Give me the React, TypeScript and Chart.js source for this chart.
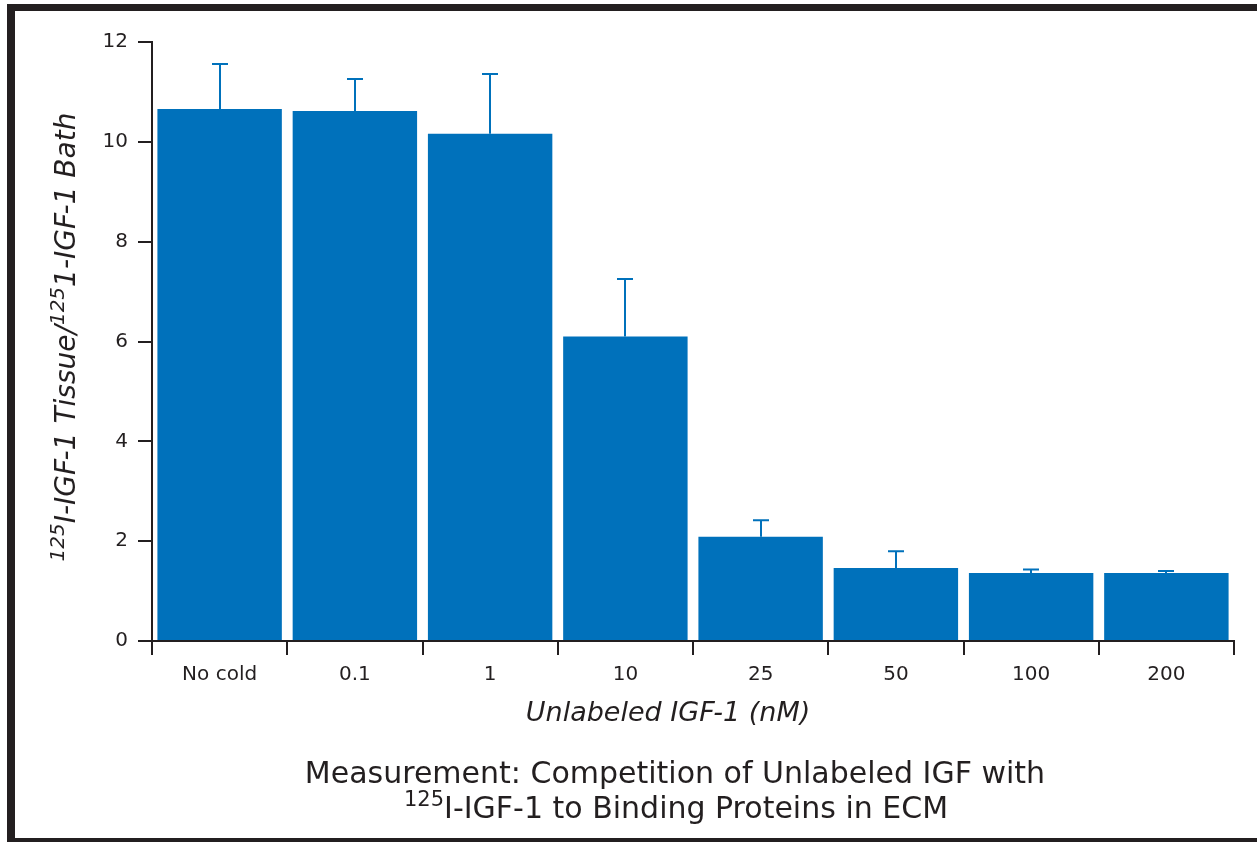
import React, { useEffect, useRef } from "react";
import { Chart, registerables } from "chart.js";

Chart.register(...registerables);

const categories = ["No cold", "0.1", "1", "10", "25", "50", "100", "200"];
const ratioValues = [10.66, 10.62, 10.16, 6.1, 2.09, 1.46, 1.36, 1.36];
const ratioErrors = [0.9, 0.64, 1.2, 1.15, 0.33, 0.34, 0.07, 0.04];
const yTickMin = 0;
const yTickMax = 12;
const yTickStep = 2;

const xTitle = "Unlabeled IGF-1 (nM)";
const yTitleParts: [string, boolean][] = [
  ["125", true],
  ["I-IGF-1 Tissue/", false],
  ["125", true],
  ["1-IGF-1 Bath", false],
];
const captionLine1 = "Measurement: Competition of Unlabeled IGF with";
const captionLine2Parts: [string, boolean][] = [
  ["125", true],
  ["I-IGF-1 to Binding Proteins in ECM", false],
];

const INK = "#231f20";
const BLUE = "#0071bb";
const FONT = "'DejaVu Sans', Verdana, sans-serif";

function drawRich(
  ctx: CanvasRenderingContext2D,
  parts: [string, boolean][],
  cx: number,
  baseline: number,
  size: number,
  supSize: number,
  supRaise: number,
  style: string
) {
  const mainFont = `${style} ${size}px ${FONT}`;
  const supFont = `${style} ${supSize}px ${FONT}`;
  let total = 0;
  for (const [t, sup] of parts) {
    ctx.font = sup ? supFont : mainFont;
    total += ctx.measureText(t).width;
  }
  let x = cx - total / 2;
  ctx.textAlign = "left";
  ctx.textBaseline = "alphabetic";
  for (const [t, sup] of parts) {
    ctx.font = sup ? supFont : mainFont;
    ctx.fillText(t, x, sup ? baseline - supRaise : baseline);
    x += ctx.measureText(t).width;
  }
}

const decorPlugin = {
  id: "decor",
  beforeDraw(chart: any) {
    const ctx = chart.ctx as CanvasRenderingContext2D;
    ctx.save();
    ctx.fillStyle = "#ffffff";
    ctx.fillRect(0, 0, chart.width, chart.height);
    ctx.fillStyle = INK;
    ctx.fillRect(7, 4, chart.width - 7, 7);
    ctx.fillRect(7, 4, 8, chart.height - 4);
    ctx.fillRect(7, 838, chart.width - 7, 4);
    ctx.restore();
  },
  afterDatasetsDraw(chart: any) {
    const ctx = chart.ctx as CanvasRenderingContext2D;
    const meta = chart.getDatasetMeta(0);
    const yScale = chart.scales.y;
    ctx.save();
    ctx.strokeStyle = BLUE;
    ctx.lineWidth = 2;
    meta.data.forEach((bar: any, i: number) => {
      const v = ratioValues[i];
      const e = ratioErrors[i];
      const x = Math.round(bar.x) + 0;
      const yTop = yScale.getPixelForValue(v + e);
      const yBase = yScale.getPixelForValue(v);
      ctx.beginPath();
      ctx.moveTo(x, yBase);
      ctx.lineTo(x, yTop);
      ctx.moveTo(x - 8, yTop);
      ctx.lineTo(x + 8, yTop);
      ctx.stroke();
    });
    ctx.restore();

    // texts
    ctx.save();
    ctx.fillStyle = INK;
    // x title
    ctx.font = `italic 27px ${FONT}`;
    ctx.textAlign = "center";
    ctx.textBaseline = "alphabetic";
    ctx.fillText(xTitle, 668, 721);
    // y title rotated
    ctx.save();
    ctx.translate(75, 337);
    ctx.rotate(-Math.PI / 2);
    drawRich(ctx, yTitleParts, 0, 0, 28, 20, 11, "italic");
    ctx.restore();
    // caption
    ctx.font = `30px ${FONT}`;
    ctx.textAlign = "center";
    ctx.fillText(captionLine1, 675, 783);
    drawRich(ctx, captionLine2Parts, 676, 818, 30, 21, 12, "normal");
    ctx.restore();
  },
};

export default function App() {
  const ref = useRef<HTMLCanvasElement | null>(null);
  useEffect(() => {
    document.body.style.margin = "0";
    const canvas = ref.current;
    if (!canvas) return;
    const chart = new Chart(canvas, {
      type: "bar",
      data: {
        labels: categories,
        datasets: [
          {
            data: ratioValues,
            backgroundColor: BLUE,
            borderWidth: 0,
            categoryPercentage: 1,
            barPercentage: 0.92,
          },
        ],
      },
      options: {
        animation: false,
        responsive: false,
        devicePixelRatio: 1,
        layout: { padding: { top: 42, right: 23, left: 0, bottom: 0 } },
        plugins: {
          legend: { display: false },
          tooltip: { enabled: false },
          title: { display: false },
        },
        scales: {
          x: {
            afterFit: (s: any) => {
              s.height = 201;
            },
            grid: {
              display: true,
              offset: true,
              drawOnChartArea: false,
              drawTicks: true,
              tickLength: 14,
              color: INK,
              lineWidth: 2,
            },
            border: { display: true, color: INK, width: 2 },
            ticks: {
              color: INK,
              font: { family: FONT, size: 20 },
              padding: 8,
              maxRotation: 0,
              autoSkip: false,
            },
          },
          y: {
            min: yTickMin,
            max: yTickMax,
            afterFit: (s: any) => {
              s.width = 152;
            },
            grid: {
              display: true,
              drawOnChartArea: false,
              drawTicks: true,
              tickLength: 14,
              color: INK,
              lineWidth: 2,
            },
            border: { display: true, color: INK, width: 2 },
            ticks: {
              stepSize: yTickStep,
              color: INK,
              font: { family: FONT, size: 20 },
              padding: 10,
            },
          },
        },
      },
      plugins: [decorPlugin],
    });
    return () => chart.destroy();
  }, []);
  return (
    <div style={{ position: "absolute", left: 0, top: 0, width: 1257, height: 842 }}>
      <canvas ref={ref} width={1257} height={842} style={{ display: "block" }} />
    </div>
  );
}
